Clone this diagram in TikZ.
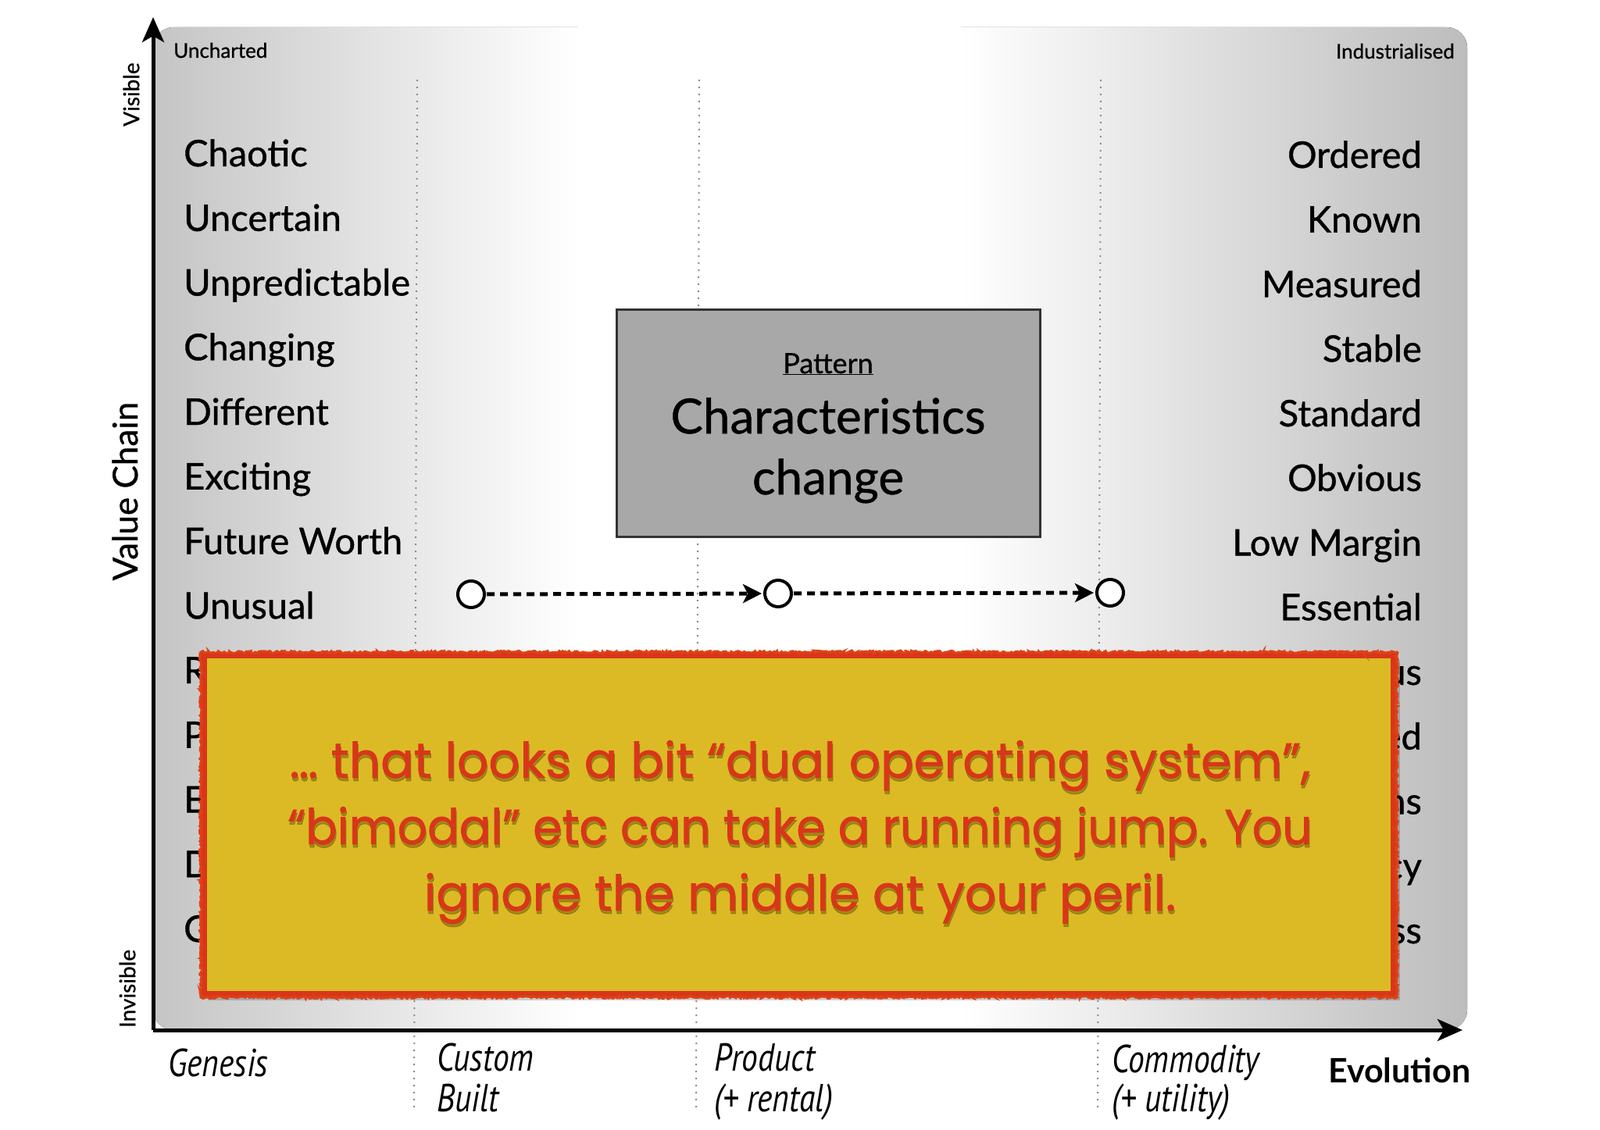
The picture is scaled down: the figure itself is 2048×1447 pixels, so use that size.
\documentclass[tikz,border=0pt]{standalone}
\usepackage{fontspec}
\setmainfont{Lato}
\newfontfamily\traitfont[FakeBold=0.8]{Lato}
\newfontfamily\evofont[FakeStretch=0.83]{PT Sans}
\newfontfamily\notefont[FakeBold=1.2]{Poppins}
\usetikzlibrary{arrows.meta,decorations.pathmorphing}
\definecolor{panelL}{HTML}{C4C4C4}
\definecolor{panelR}{HTML}{BCBCBC}
\definecolor{boxgray}{HTML}{A8A8A8}
\definecolor{noteyellow}{HTML}{DCBA25}
\definecolor{notered}{HTML}{D8361A}
\definecolor{noteshadow}{HTML}{4A4000}
\definecolor{dotgray}{HTML}{8C8C8C}
\newcommand\traitsize{\traitfont\fontsize{47}{50}\selectfont}
\newcommand\lineone{… that looks a bit “dual operating system”,}
\newcommand\linetwo{\scalebox{0.955}[1]{“bimodal” etc can take a running jump. You}}
\newcommand\linethree{ignore the middle at your peril.}
\begin{document}
\begin{tikzpicture}[x=1pt,y=-1pt,
  trait/.style={font=\traitsize, inner sep=0pt, text=black},
  corner/.style={font=\traitfont\fontsize{26}{30}\selectfont, inner sep=0pt},
  sidelabel/.style={font=\traitfont\fontsize{28}{32}\selectfont, inner sep=0pt, rotate=90},
  stagelabel/.style={font=\evofont\itshape\fontsize{50}{54}\selectfont, inner sep=0pt, anchor=base west},
  guide/.style={dotgray, line width=2pt, dash pattern=on 2pt off 7pt},
  axis/.style={line width=5pt, -{Stealth[length=32pt,width=28pt,inset=8pt]}},
  patbox/.style={fill=boxgray, draw=black!80, line width=3pt, minimum width=542pt, minimum height=291pt, inner sep=0pt},
  stage/.style={circle, draw=black, line width=4pt, fill=white, minimum size=34pt, inner sep=0pt},
  flow/.style={line width=5pt, dash pattern=on 10pt off 7pt, -{Stealth[length=24pt,width=24pt,inset=6pt]}, shorten >=2pt, shorten <=1pt},
  note/.style={fill=noteyellow, draw=notered, line width=8pt, minimum width=1523pt, minimum height=434pt, inner sep=0pt},
  notetext/.style={font=\notefont\fontsize{63}{70}\selectfont, inner sep=0pt, anchor=base, text=notered}
]
\useasboundingbox (0,0) rectangle (2048,1447);
\fill[white] (0,0) rectangle (2048,1447);

% background panel
\begin{scope}
  \clip[rounded corners=26pt] (196,35) rectangle (1878,1319);
  \fill[left color=panelL, right color=white] (190,30) rectangle (740,1325);
  \fill[white] (739,30) rectangle (1231,1325);
  \fill[left color=white, right color=panelR] (1230,30) rectangle (1885,1325);
\end{scope}

% guide lines
\coordinate (g1t) at (534,102); \coordinate (g1b) at (530,1420);
\coordinate (g2t) at (895,102); \coordinate (g2b) at (891,1420);
\coordinate (g3t) at (1409,102); \coordinate (g3b) at (1405,1420);
\draw[guide] (g1t) -- (g1b);
\draw[guide] (g2t) -- (g2b);
\draw[guide] (g3t) -- (g3b);

% corner labels
\node[corner, anchor=base west] (unch) at (222,74) {Uncharted};
\node[corner, anchor=base east] (indu) at (1862,75) {Industrialised};

% trait lists
\foreach \w [count=\i] in {Chaotic,Uncertain,Unpredictable,Changing,Different,Exciting,Future Worth,Unusual,R,P,E,D,C}{
  \node[trait, anchor=base west] (L\i) at (235,{213+82.75*(\i-1)}) {\w};
}
\foreach \w [count=\i] in {Ordered,Known,Measured,Stable,Standard,Obvious,Low Margin,Essential,us,ed,ns,cy,ss}{
  \node[trait, anchor=base east] (R\i) at (1820,{215+82.75*(\i-1)}) {\w};
}

% axes
\coordinate (O) at (196,1319);
\coordinate (ytop) at (196,22);
\coordinate (xend) at (1872,1319);
\draw[axis] (O) -- (ytop);
\draw[axis] (O) -- (xend);

% axis labels
\node[sidelabel] (vis) at (168,121) {Visible};
\node[sidelabel] (invis) at (163,1266) {Invisible};
\node[sidelabel, font=\traitfont\fontsize{44}{48}\selectfont] (vchain) at (160,629) {Value Chain};
\node[font=\bfseries\fontsize{43}{46}\selectfont, inner sep=0pt, anchor=base west] (evo) at (1700,1386) {Evolution};
\node[stagelabel] (gen) at (215,1378) {Genesis};
\node[stagelabel] (cus1) at (559,1371) {Custom};
\node[stagelabel] (cus2) at (559,1423) {Built};
\node[stagelabel] (pro1) at (914,1371) {Product};
\node[stagelabel] (pro2) at (914,1423) {(+ rental)};
\node[stagelabel] (com1) at (1423,1373) {Commodity};
\node[stagelabel] (com2) at (1423,1423) {(+ utility)};

% pattern box
\node[patbox] (pat) at (1060,542) {};
\node[inner sep=0pt, font=\traitfont\fontsize{36}{40}\selectfont, anchor=base] (pattitle) at (1060,478) {\underline{Pattern}};
\node[inner sep=0pt, font=\traitfont\fontsize{62}{66}\selectfont, anchor=base] (char) at (1060,555) {Characteristics};
\node[inner sep=0pt, font=\traitfont\fontsize{62}{66}\selectfont, anchor=base] (chg) at (1060,633) {change};

% stages
\node[stage] (s1) at (603,761) {};
\node[stage] (s2) at (996,760) {};
\node[stage] (s3) at (1421,759) {};
\draw[flow] (s1) -- (s2);
\draw[flow] (s2) -- (s3);

% note
\fill[black, opacity=0.18] (266,846) rectangle (1792,1281);
\node[note] (note) at (1022.5,1056) {};
\draw[notered!85!orange, line width=3pt, decorate, decoration={random steps, segment length=2pt, amplitude=1.5pt}]
  (note.north west) rectangle (note.south east);
\node[notetext, text=noteshadow, opacity=0.4] (n1s) at (1025,1000) {\lineone};
\node[notetext, text=noteshadow, opacity=0.4] (n2s) at (1025,1085) {\linetwo};
\node[notetext, text=noteshadow, opacity=0.4] (n3s) at (1025,1170) {\linethree};
\node[notetext] (n1) at (1024,996) {\lineone};
\node[notetext] (n2) at (1024,1081) {\linetwo};
\node[notetext] (n3) at (1024,1166) {\linethree};
\end{tikzpicture}
\end{document}
